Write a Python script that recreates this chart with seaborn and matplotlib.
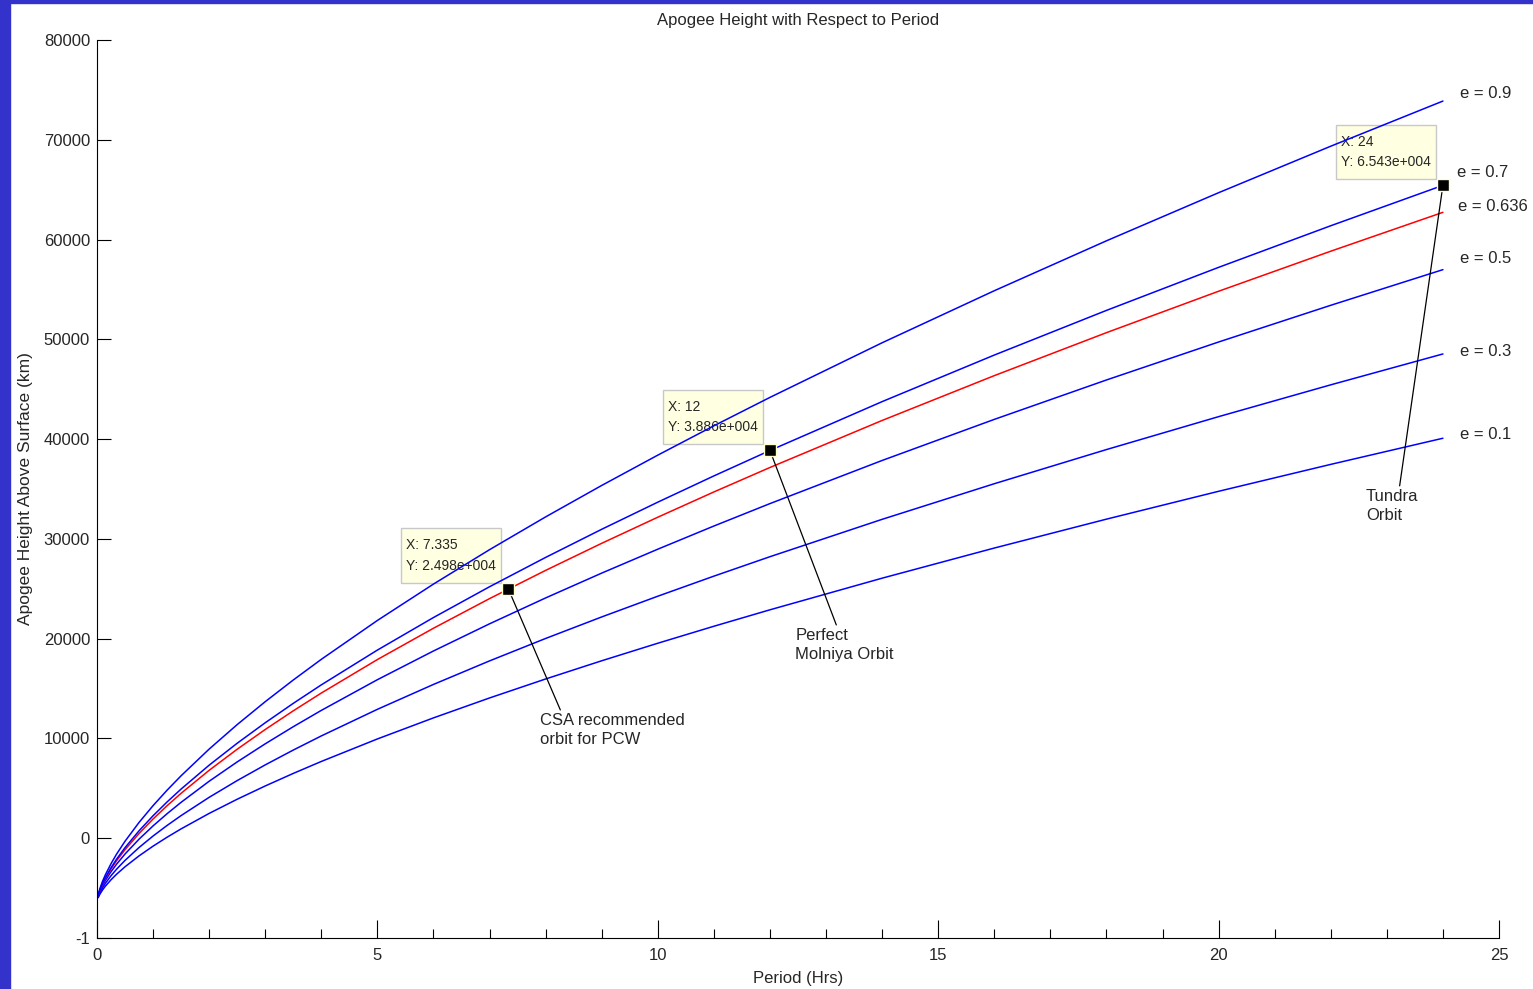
import matplotlib
matplotlib.use("Agg")
import matplotlib.pyplot as plt
import seaborn as sns
import pandas as pd
from matplotlib.patches import Rectangle
from matplotlib.path import Path
from matplotlib.ticker import MultipleLocator

# period in hours, apogee height above surface in km
period_hrs = [0.02, 0.05, 0.1, 0.15, 0.25, 0.35, 0.5, 0.75, 1, 1.25, 1.5, 2, 2.5, 3, 3.5, 4, 5, 6, 7, 8,
              9, 10, 11, 12, 14, 16, 18, 20, 22, 24]
apogee_e01 = [-5967, -5620, -5175, -4802, -4163, -3604, -2860, -1768, -793, 102, 939, 2487, 3908, 5238,
              6495, 7694, 9950, 12061, 14058, 15960, 17785, 19542, 21244, 22893, 26062, 29082, 31978,
              34770, 37468, 40087]
apogee_e03 = [-5892, -5482, -4956, -4515, -3760, -3099, -2221, -930, 222, 1280, 2270, 4099, 5778, 7350,
              8836, 10253, 12919, 15414, 17773, 20021, 22178, 24255, 26266, 28215, 31960, 35529, 38952,
              42251, 45440, 48535]
apogee_e05 = [-5817, -5344, -4737, -4228, -3357, -2595, -1581, -91, 1238, 2459, 3600, 5711, 7649, 9462,
              11177, 12812, 15888, 18767, 21489, 24083, 26571, 28968, 31289, 33537, 37859, 41976, 45926,
              49733, 53412, 56984]
apogee_e0636 = [-5766, -5251, -4588, -4034, -3083, -2252, -1146, 478, 1928, 3260, 4505, 6807, 8920, 10898,
                12768, 14551, 17907, 21046, 24016, 26844, 29558, 32173, 34704, 37156, 41869, 46360, 50668,
                54820, 58833, 62728]
apogee_e07 = [-5742, -5207, -4518, -3942, -2954, -2091, -941, 747, 2253, 3637, 4930, 7322, 9519, 11574,
              13517, 15370, 18857, 22119, 25205, 28144, 30964, 33681, 36311, 38859, 43757, 48423, 52899,
              57214, 61384, 65432]
apogee_e09 = [-5667, -5069, -4299, -3655, -2551, -1586, -302, 1585, 3268, 4815, 6261, 8934, 11389, 13686,
              15858, 17929, 21826, 25472, 28920, 32205, 35357, 38394, 41333, 44181, 49655, 54870, 59873,
              64695, 69356, 73880]

ecc_labels = ["e = 0.1", "e = 0.3", "e = 0.5", "e = 0.636", "e = 0.7", "e = 0.9"]
ecc_curves = [apogee_e01, apogee_e03, apogee_e05, apogee_e0636, apogee_e07, apogee_e09]
# where the e = ... labels sit (period, height)
ecc_label_x = [24.3, 24.3, 24.3, 24.27, 24.25, 24.3]
ecc_label_y = [40500, 48820, 58150, 63360, 66770, 74590]

# data tips
tip_x = [7.335, 12, 24]
tip_y = [24980, 38860, 65430]
tip_text = ["X: 7.335\nY: 2.498e+004", "X: 12\nY: 3.886e+004", "X: 24\nY: 6.543e+004"]

notes = ["CSA recommended\norbit for PCW", "Perfect\nMolniya Orbit", "Tundra\nOrbit"]
note_x = [7.90, 12.45, 22.63]
note_y = [12530, 21050, 34990]
note_relx = [0.15, 0.43, 0.63]

yticks = [-10000, 0, 10000, 20000, 30000, 40000, 50000, 60000, 70000, 80000]
ytick_labels = ["-1", "0", "10000", "20000", "30000", "40000", "50000", "60000", "70000", "80000"]

rows = []
for lab, vals in zip(ecc_labels, ecc_curves):
    for t, h in zip(period_hrs, vals):
        rows.append({"period": t, "apogee": h, "ecc": lab})
df = pd.DataFrame(rows)


def tip_box(x0, y0, width, height, mutation_size):
    # matlab datatip box: little padding at the sides, more above and below
    px, py = 5, 10
    x0, y0 = x0 - px, y0 - py
    x1, y1 = x0 + width + 2 * px, y0 + height + 2 * py
    return Path([(x0, y0), (x1, y0), (x1, y1), (x0, y1), (x0, y0)], closed=True)


sns.set_style("white")
plt.rcParams["font.family"] = ["Liberation Sans", "DejaVu Sans"]

fig = plt.figure(figsize=(15.33, 9.89), dpi=100)
fig.patches.append(Rectangle((0, 0), 10 / 1533, 1, transform=fig.transFigure, color="#3333cc", zorder=0))
fig.patches.append(Rectangle((0, 1 - 3 / 989), 1, 3 / 989, transform=fig.transFigure, color="#3333cc", zorder=0))
ax = fig.add_axes([97 / 1533, 1 - 938 / 989, 1402 / 1533, 898 / 989])

palette = {lab: "#0000ff" for lab in ecc_labels}
palette["e = 0.636"] = "#ff0000"
sns.lineplot(data=df, x="period", y="apogee", hue="ecc", palette=palette, legend=False,
             linewidth=1.1, ax=ax, zorder=2)

sns.scatterplot(x=tip_x, y=tip_y, marker="s", s=70, color="black", edgecolor="#ffffcc",
                linewidth=1, ax=ax, zorder=4)

for tx, ty, txt in zip(tip_x, tip_y, tip_text):
    ax.annotate(txt, xy=(tx, ty), xytext=(-12, 16), textcoords="offset pixels",
                ha="right", va="bottom", multialignment="left", fontsize=10, linespacing=1.6,
                zorder=1.5, bbox=dict(boxstyle=tip_box, fc="#ffffe1", ec="#c8c8c8", lw=1))

for tx, ty, txt, nx, ny, rx in zip(tip_x, tip_y, notes, note_x, note_y, note_relx):
    ax.annotate(txt, xy=(tx, ty), xytext=(nx, ny), ha="left", va="top", fontsize=12,
                linespacing=1.3,
                arrowprops=dict(arrowstyle="-", color="black", lw=0.9, shrinkA=0, shrinkB=0,
                                relpos=(rx, 1.0)))

for lx, ly, lab in zip(ecc_label_x, ecc_label_y, ecc_labels):
    ax.text(lx, ly, lab, ha="left", va="center", fontsize=12)

ax.set_xlim(0, 25)
ax.set_ylim(-10000, 80000)
ax.xaxis.set_major_locator(MultipleLocator(5))
ax.xaxis.set_minor_locator(MultipleLocator(1))
ax.set_yticks(yticks)
ax.set_yticklabels(ytick_labels)
ax.tick_params(axis="x", which="major", direction="in", bottom=True, length=13, width=0.8, pad=7,
               labelsize=12, color="black")
ax.tick_params(axis="x", which="minor", direction="in", bottom=True, length=6.5, width=0.8, color="black")
ax.tick_params(axis="y", which="major", direction="in", left=True, length=10, width=0.8, pad=5,
               labelsize=12, color="black")

for side in ["top", "right"]:
    ax.spines[side].set_visible(False)
for side in ["left", "bottom"]:
    ax.spines[side].set_color("black")
    ax.spines[side].set_linewidth(0.8)

ax.set_title("Apogee Height with Respect to Period", fontsize=12, pad=11)
ax.set_xlabel("Period (Hrs)", fontsize=12)
ax.set_ylabel("Apogee Height Above Surface (km)", fontsize=12.5)
ax.xaxis.set_label_coords(0.5, -0.037)
ax.yaxis.set_label_coords(-0.046, 0.5)

fig.savefig("out.png", dpi=100)
